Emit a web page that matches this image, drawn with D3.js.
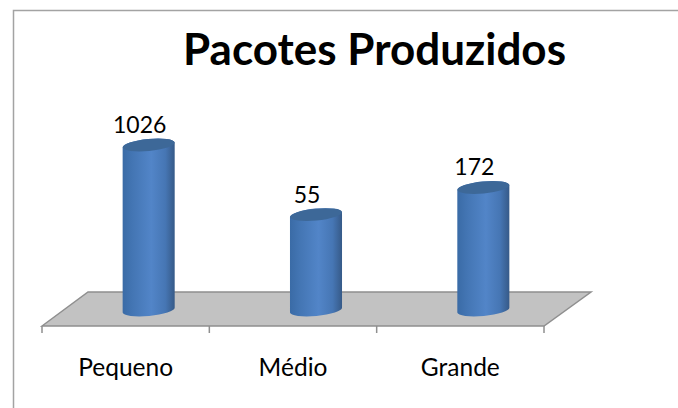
<!DOCTYPE html>
<html><head><meta charset="utf-8">
<script src="https://cdn.jsdelivr.net/npm/d3@7"></script>
<style>html,body{margin:0;padding:0;background:#fff}svg{display:block}text{font-family:Lato,"Open Sans",sans-serif;fill:#000}</style>
</head><body><svg id="c" width="678" height="408"></svg>
<script>
const categories = ["Pequeno","Médio","Grande"];
const values = [1026,55,172];
const titleText = "Pacotes Produzidos";

const svg = d3.select("#c");
const defs = svg.append("defs");
const grad = defs.append("linearGradient").attr("id","cyl").attr("x1","0").attr("x2","1").attr("y1","0").attr("y2","0");
[[0,"#3a6ba6"],[0.18,"#4375b3"],[0.55,"#5285c8"],[0.82,"#4676b4"],[1,"#365a88"]].forEach(s=>grad.append("stop").attr("offset",s[0]).attr("stop-color",s[1]));

// chart frame
svg.append("path").attr("d","M13.5,408V10.5H678").attr("fill","none").attr("stroke","#a3a3a3").attr("stroke-width",1.5);

const front = 326, back = 292, depthX = 46, baseY = 310, barShift = 23;
const x = d3.scaleBand().domain(categories).range([42,544]).paddingInner(0.689).paddingOuter(0.3445);
const band = d3.scaleBand().domain(categories).range([42,544]);
const y = d3.scaleLog().domain([1,10000]).range([baseY, baseY-4*54.8]);

// floor
svg.append("path").attr("d",d3.line()([[42,front],[42+depthX,back],[544+depthX+1,back],[544,front]])+"Z")
  .attr("fill","#c2c2c2").attr("stroke","#8f8f8f").attr("stroke-width",1.5);

// category axis
const axis = d3.axisBottom(band).tickSize(0).tickPadding(0);
const ax = svg.append("g").attr("transform",`translate(0,${front})`).call(axis);
ax.select(".domain").remove();
ax.selectAll("text").attr("y",50).attr("dy",null).style("font-size","24.5px").attr("fill","#000").attr("text-anchor","middle");
const tickXs = categories.map(c=>band(c)).concat([band(categories[categories.length-1])+band.bandwidth()]);
svg.append("g").selectAll("line").data(tickXs).join("line")
  .attr("x1",d=>d).attr("x2",d=>d).attr("y1",front).attr("y2",front+7)
  .attr("stroke","#8f8f8f").attr("stroke-width",1.5);

// cylinders
const tilt = 5.5, ry = 6;
const g = svg.append("g").selectAll("g").data(values).join("g");
g.each(function(v,i){
  const s = d3.select(this);
  const rx = x.bandwidth()/2;
  const cx = x(categories[i]) + rx + barShift;
  const top = y(v), dy = rx*Math.sin(tilt*Math.PI/180);
  s.append("path")
    .attr("d",`M${cx-rx},${top+dy}L${cx-rx},${baseY+dy}A${rx},${ry} ${-tilt} 0 0 ${cx+rx},${baseY-dy}L${cx+rx},${top-dy}A${rx},${ry} ${-tilt} 0 0 ${cx-rx},${top+dy}Z`)
    .attr("fill","url(#cyl)");
  s.append("ellipse").attr("cx",cx).attr("cy",top).attr("rx",rx).attr("ry",ry)
    .attr("transform",`rotate(${-tilt} ${cx} ${top})`).attr("fill","#3d6898");
  s.append("text").attr("x",cx-9).attr("y",top-12).attr("text-anchor","middle").style("font-size","23px").text(v);
});

// title
svg.append("text").attr("x",374.5).attr("y",65).attr("text-anchor","middle")
  .style("font-size","44px").style("font-weight","700").text(titleText);
</script></body></html>
